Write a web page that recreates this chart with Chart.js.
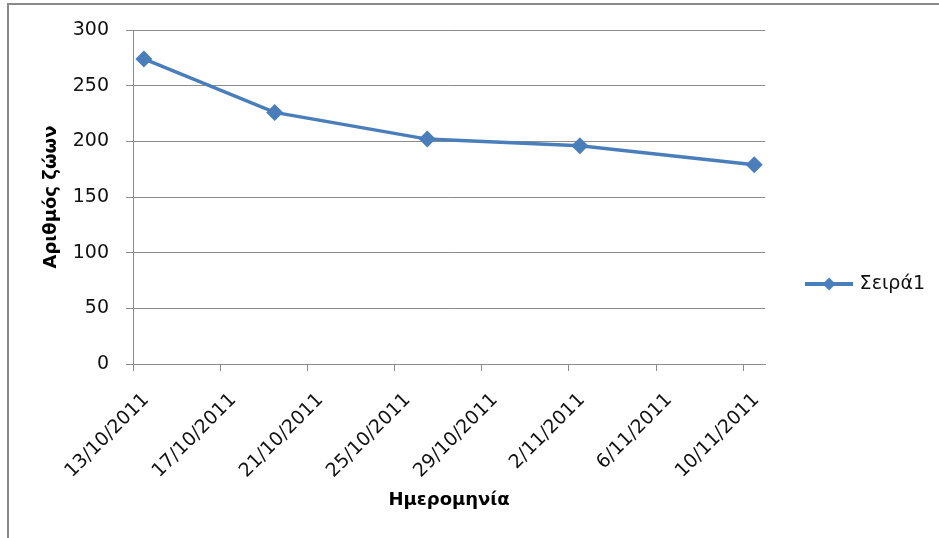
<!DOCTYPE html>
<html>
<head>
<meta charset="utf-8">
<script src="https://cdn.jsdelivr.net/npm/chart.js@4.4.1/dist/chart.umd.min.js"></script>
<style>
  html, body { margin: 0; padding: 0; background: #fff; overflow: hidden; }
  canvas { display: block; }
</style>
</head>
<body>
<canvas id="grafico" width="939" height="538"></canvas>
<script>
// Δεδομένα
const startDate = '13/10/2011';
const fechas = ['13/10/2011', '19/10/2011', '26/10/2011', '2/11/2011', '10/11/2011'];
const valores = [274, 226, 202, 196, 179];
const tickLabels = ['13/10/2011', '17/10/2011', '21/10/2011', '25/10/2011',
                    '29/10/2011', '2/11/2011', '6/11/2011', '10/11/2011'];
const serieNombre = 'Σειρά1';

// días desde la primera fecha (el punto va en el centro del día)
function dia(s) {
  const [d, m, y] = s.split('/').map(Number);
  const [d0, m0, y0] = startDate.split('/').map(Number);
  return (Date.UTC(y, m - 1, d) - Date.UTC(y0, m0 - 1, d0)) / 86400000;
}

const azul = '#4a7ebb';
const gris = '#8c8c8c';
const fuente = 'DejaVu Sans';

// icono de la leyenda: línea con rombo
const icono = document.createElement('canvas');
icono.width = 48; icono.height = 16;
(function () {
  const c = icono.getContext('2d');
  c.strokeStyle = azul; c.lineWidth = 4;
  c.beginPath(); c.moveTo(0, 8); c.lineTo(48, 8); c.stroke();
  c.fillStyle = azul;
  c.beginPath(); c.moveTo(24, 1.5); c.lineTo(30.5, 8); c.lineTo(24, 14.5); c.lineTo(17.5, 8); c.closePath(); c.fill();
})();

// marco del gráfico (solo arriba e izquierda quedan visibles)
const marco = {
  id: 'marco',
  beforeDraw(chart) {
    const c = chart.ctx;
    c.save();
    c.fillStyle = '#fff';
    c.fillRect(0, 0, chart.width, chart.height);
    c.strokeStyle = '#8a8a8a';
    c.lineWidth = 2;
    c.beginPath();
    c.moveTo(8, chart.height + 2);
    c.lineTo(8, 4);
    c.lineTo(chart.width + 2, 4);
    c.stroke();
    c.restore();
  }
};

new Chart(document.getElementById('grafico'), {
  type: 'line',
  plugins: [marco],
  data: {
    datasets: [{
      label: serieNombre,
      data: fechas.map((f, i) => ({ x: dia(f) + 0.5, y: valores[i] })),
      borderColor: azul,
      backgroundColor: azul,
      borderWidth: 3.5,
      pointStyle: 'rectRot',
      pointRadius: 8.5,
      pointBorderWidth: 0,
      tension: 0,
      fill: false
    }]
  },
  options: {
    responsive: false,
    animation: false,
    layout: { padding: { left: 0, top: 30, right: 4, bottom: 0 } },
    plugins: {
      tooltip: { enabled: false },
      legend: {
        position: 'right',
        labels: {
          usePointStyle: true,
          pointStyleWidth: 42,
          padding: 43,
          color: '#111',
          font: { family: fuente, size: 19 },
          generateLabels: chart => [{
            text: serieNombre,
            pointStyle: icono,
            fillStyle: azul,
            strokeStyle: azul,
            lineWidth: 0,
            fontColor: '#111',
            datasetIndex: 0
          }]
        }
      }
    },
    scales: {
      x: {
        type: 'linear',
        min: 0,
        max: 29,
        afterFit: s => { s.height = 174; },
        afterBuildTicks: s => { s.ticks = tickLabels.map((t, i) => ({ value: i * 4 })); },
        border: { color: gris, width: 1 },
        grid: { drawOnChartArea: false, color: gris, tickLength: 7 },
        ticks: {
          autoSkip: false,
          minRotation: 45,
          maxRotation: 45,
          padding: 18,
          labelOffset: 13,
          color: '#111',
          font: { family: fuente, size: 19 },
          callback: v => tickLabels[Math.round(v / 4)]
        },
        title: {
          display: true,
          text: 'Ημερομηνία',
          color: '#000',
          font: { family: fuente, size: 18, weight: 'bold' },
          padding: { top: 0, bottom: 27 }
        }
      },
      y: {
        min: 0,
        max: 300,
        afterFit: s => { s.width = 133; },
        border: { color: gris, width: 1 },
        grid: { color: gris, tickLength: 7 },
        ticks: {
          stepSize: 50,
          padding: 17,
          color: '#111',
          font: { family: fuente, size: 19 }
        },
        title: {
          display: true,
          text: 'Αριθμός ζώων',
          color: '#000',
          font: { family: fuente, size: 18, weight: 'bold' },
          padding: { top: 41, bottom: 0 }
        }
      }
    }
  }
});
</script>
</body>
</html>
